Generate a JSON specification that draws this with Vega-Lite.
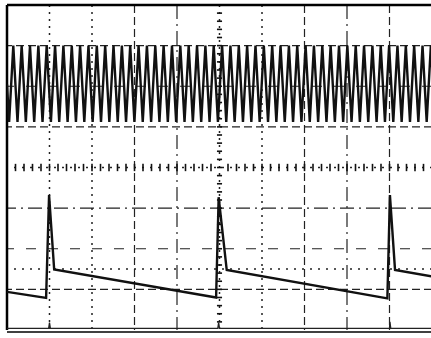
{
"$schema": "https://vega.github.io/schema/vega-lite/v6.json",
"width": 425, "height": 325,
"padding": {"left": 7, "top": 5, "right": 0, "bottom": 8},
"autosize": {"type": "none"},
"background": "white",
"config": {"view": {"stroke": null}},
"datasets": {
"h": [
{"y": 3, "s": "a"}, {"y": 2, "s": "b"}, {"y": 1, "s": "a"}, {"y": 0, "s": "dot"},
{"y": -1, "s": "c"}, {"y": -2, "s": "b"}, {"y": -2.5, "s": "dot"}, {"y": -3, "s": "a"}
],
"v": [
{"x": 1, "s": "dot"}, {"x": 2, "s": "dot"}, {"x": 3, "s": "a"}, {"x": 4, "s": "c"}, {"x": 5, "s": "dot"},
{"x": 6, "s": "dot"}, {"x": 7, "s": "a"}, {"x": 8, "s": "c"}, {"x": 9, "s": "a"}
],
"xt": [
{"x":0.2},{"x":0.4},{"x":0.6},{"x":0.8},{"x":1},{"x":1.2},{"x":1.4},{"x":1.6},{"x":1.8},{"x":2},
{"x":2.2},{"x":2.4},{"x":2.6},{"x":2.8},{"x":3},{"x":3.2},{"x":3.4},{"x":3.6},{"x":3.8},{"x":4},
{"x":4.2},{"x":4.4},{"x":4.6},{"x":4.8},{"x":5.2},{"x":5.4},{"x":5.6},{"x":5.8},{"x":6},
{"x":6.2},{"x":6.4},{"x":6.6},{"x":6.8},{"x":7},{"x":7.2},{"x":7.4},{"x":7.6},{"x":7.8},{"x":8},
{"x":8.2},{"x":8.4},{"x":8.6},{"x":8.8},{"x":9},{"x":9.2},{"x":9.4},{"x":9.6},{"x":9.8}
],
"yt": [
{"y":-3.8},{"y":-3.6},{"y":-3.4},{"y":-3.2},{"y":-3},{"y":-2.8},{"y":-2.6},{"y":-2.4},{"y":-2.2},{"y":-2},
{"y":-1.8},{"y":-1.6},{"y":-1.4},{"y":-1.2},{"y":-1},{"y":-0.8},{"y":-0.6},{"y":-0.4},{"y":-0.2},{"y":0},
{"y":0.2},{"y":0.4},{"y":0.6},{"y":0.8},{"y":1},{"y":1.2},{"y":1.4},{"y":1.6},{"y":1.8},{"y":2},
{"y":2.2},{"y":2.4},{"y":2.6},{"y":2.8},{"y":3},{"y":3.2},{"y":3.4},{"y":3.6},{"y":3.8}
],
"tri": [
{"x":0,"y":2.05},
{"x":0.050,"y":1.12},{"x":0.148,"y":3.0},
{"x":0.247,"y":1.12},{"x":0.345,"y":3.0},
{"x":0.443,"y":1.12},{"x":0.541,"y":3.0},
{"x":0.640,"y":1.12},{"x":0.738,"y":3.0},
{"x":0.836,"y":1.12},{"x":0.934,"y":3.0},
{"x":1.033,"y":1.12},{"x":1.131,"y":3.0},
{"x":1.229,"y":1.12},{"x":1.327,"y":3.0},
{"x":1.426,"y":1.12},{"x":1.524,"y":3.0},
{"x":1.622,"y":1.12},{"x":1.720,"y":3.0},
{"x":1.819,"y":1.12},{"x":1.917,"y":3.0},
{"x":2.015,"y":1.12},{"x":2.113,"y":3.0},
{"x":2.212,"y":1.12},{"x":2.310,"y":3.0},
{"x":2.408,"y":1.12},{"x":2.506,"y":3.0},
{"x":2.605,"y":1.12},{"x":2.703,"y":3.0},
{"x":2.801,"y":1.12},{"x":2.899,"y":3.0},
{"x":2.998,"y":1.12},{"x":3.096,"y":3.0},
{"x":3.194,"y":1.12},{"x":3.292,"y":3.0},
{"x":3.391,"y":1.12},{"x":3.489,"y":3.0},
{"x":3.587,"y":1.12},{"x":3.685,"y":3.0},
{"x":3.784,"y":1.12},{"x":3.882,"y":3.0},
{"x":3.980,"y":1.12},{"x":4.078,"y":3.0},
{"x":4.177,"y":1.12},{"x":4.275,"y":3.0},
{"x":4.373,"y":1.12},{"x":4.471,"y":3.0},
{"x":4.570,"y":1.12},{"x":4.668,"y":3.0},
{"x":4.766,"y":1.12},{"x":4.864,"y":3.0},
{"x":4.963,"y":1.12},{"x":5.061,"y":3.0},
{"x":5.159,"y":1.12},{"x":5.257,"y":3.0},
{"x":5.356,"y":1.12},{"x":5.454,"y":3.0},
{"x":5.552,"y":1.12},{"x":5.650,"y":3.0},
{"x":5.749,"y":1.12},{"x":5.847,"y":3.0},
{"x":5.945,"y":1.12},{"x":6.043,"y":3.0},
{"x":6.142,"y":1.12},{"x":6.240,"y":3.0},
{"x":6.338,"y":1.12},{"x":6.436,"y":3.0},
{"x":6.535,"y":1.12},{"x":6.633,"y":3.0},
{"x":6.731,"y":1.12},{"x":6.829,"y":3.0},
{"x":6.928,"y":1.12},{"x":7.026,"y":3.0},
{"x":7.124,"y":1.12},{"x":7.222,"y":3.0},
{"x":7.321,"y":1.12},{"x":7.419,"y":3.0},
{"x":7.517,"y":1.12},{"x":7.615,"y":3.0},
{"x":7.714,"y":1.12},{"x":7.812,"y":3.0},
{"x":7.910,"y":1.12},{"x":8.008,"y":3.0},
{"x":8.107,"y":1.12},{"x":8.205,"y":3.0},
{"x":8.303,"y":1.12},{"x":8.401,"y":3.0},
{"x":8.500,"y":1.12},{"x":8.598,"y":3.0},
{"x":8.696,"y":1.12},{"x":8.794,"y":3.0},
{"x":8.893,"y":1.12},{"x":8.991,"y":3.0},
{"x":9.089,"y":1.12},{"x":9.187,"y":3.0},
{"x":9.286,"y":1.12},{"x":9.384,"y":3.0},
{"x":9.482,"y":1.12},{"x":9.580,"y":3.0},
{"x":9.679,"y":1.12},{"x":9.777,"y":3.0},
{"x":9.875,"y":1.12},{"x":9.973,"y":3.0},
{"x":10,"y":2.47}
],
"saw": [
{"x":0,"y":-3.06},{"x":0.92,"y":-3.21},{"x":0.99,"y":-0.68},{"x":1.11,"y":-2.51},
{"x":4.92,"y":-3.2},{"x":4.98,"y":-0.73},{"x":5.17,"y":-2.52},
{"x":8.95,"y":-3.22},{"x":9.01,"y":-0.68},{"x":9.13,"y":-2.52},{"x":10,"y":-2.68}
],
"bot": [
{"x":0,"y":-3.96},{"x":0.98,"y":-3.96},{"x":1.0,"y":-3.82},{"x":1.02,"y":-3.96},
{"x":4.96,"y":-3.96},{"x":4.98,"y":-3.82},{"x":5.0,"y":-3.96},
{"x":9.0,"y":-3.96},{"x":9.01,"y":-3.8},{"x":9.03,"y":-3.96},{"x":10,"y":-3.96}
]
},
"layer": [
{
"data": {"name": "h"},
"transform": [{"filter": "datum.s == 'a'"}],
"mark": {"type": "rule", "stroke": "#222", "strokeWidth": 1.2, "strokeDash": [8, 4]},
"encoding": {"y": {"field": "y", "type": "quantitative", "scale": {"domain": [-4, 4]}, "axis": null}}
},
{
"data": {"name": "h"},
"transform": [{"filter": "datum.s == 'b'"}],
"mark": {"type": "rule", "stroke": "#222", "strokeWidth": 1.2, "strokeDash": [10, 12]},
"encoding": {"y": {"field": "y", "type": "quantitative", "scale": {"domain": [-4, 4]}, "axis": null}}
},
{
"data": {"name": "h"},
"transform": [{"filter": "datum.s == 'c'"}],
"mark": {"type": "rule", "stroke": "#222", "strokeWidth": 1.2, "strokeDash": [14, 5, 2, 5]},
"encoding": {"y": {"field": "y", "type": "quantitative", "scale": {"domain": [-4, 4]}, "axis": null}}
},
{
"data": {"name": "h"},
"transform": [{"filter": "datum.s == 'dot'"}],
"mark": {"type": "rule", "stroke": "#222", "strokeWidth": 1.5, "strokeDash": [2, 6]},
"encoding": {"y": {"field": "y", "type": "quantitative", "scale": {"domain": [-4, 4]}, "axis": null}}
},
{
"data": {"name": "v"},
"transform": [{"filter": "datum.s == 'a'"}],
"mark": {"type": "rule", "stroke": "#222", "strokeWidth": 1.2, "strokeDash": [8, 4]},
"encoding": {"x": {"field": "x", "type": "quantitative", "scale": {"domain": [0, 10]}, "axis": null}}
},
{
"data": {"name": "v"},
"transform": [{"filter": "datum.s == 'c'"}],
"mark": {"type": "rule", "stroke": "#222", "strokeWidth": 1.2, "strokeDash": [14, 5, 2, 5]},
"encoding": {"x": {"field": "x", "type": "quantitative", "scale": {"domain": [0, 10]}, "axis": null}}
},
{
"data": {"name": "v"},
"transform": [{"filter": "datum.s == 'dot'"}],
"mark": {"type": "rule", "stroke": "#222", "strokeWidth": 1.5, "strokeDash": [2, 5]},
"encoding": {"x": {"field": "x", "type": "quantitative", "scale": {"domain": [0, 10]}, "axis": null}}
},
{
"data": {"name": "xt"},
"mark": {"type": "rule", "stroke": "#111", "strokeWidth": 1.6},
"encoding": {
"x": {"field": "x", "type": "quantitative", "scale": {"domain": [0, 10]}, "axis": null},
"y": {"datum": -0.09, "type": "quantitative", "scale": {"domain": [-4, 4]}, "axis": null},
"y2": {"datum": 0.09}
}
},
{
"data": {"name": "yt"},
"mark": {"type": "rule", "stroke": "#111", "strokeWidth": 1.6},
"encoding": {
"y": {"field": "y", "type": "quantitative", "scale": {"domain": [-4, 4]}, "axis": null},
"x": {"datum": 4.94, "type": "quantitative", "scale": {"domain": [0, 10]}, "axis": null},
"x2": {"datum": 5.06}
}
},
{
"data": {"values": [{"x": 0}]},
"mark": {"type": "rule", "stroke": "#000", "strokeWidth": 2.5},
"encoding": {"x": {"field": "x", "type": "quantitative", "scale": {"domain": [0, 10]}, "axis": null}}
},
{
"data": {"values": [{"y": 4}]},
"mark": {"type": "rule", "stroke": "#000", "strokeWidth": 2.5},
"encoding": {"y": {"field": "y", "type": "quantitative", "scale": {"domain": [-4, 4]}, "axis": null}}
},
{
"data": {"values": [{"y": -4.05}]},
"mark": {"type": "rule", "stroke": "#000", "strokeWidth": 1.5},
"encoding": {"y": {"field": "y", "type": "quantitative", "scale": {"domain": [-4, 4]}, "axis": null}}
},
{
"data": {"name": "bot"},
"mark": {"type": "line", "stroke": "#222", "strokeWidth": 1.3, "clip": true},
"encoding": {
"x": {"field": "x", "type": "quantitative", "scale": {"domain": [0, 10]}, "axis": null},
"y": {"field": "y", "type": "quantitative", "scale": {"domain": [-4, 4]}, "axis": null}
}
},
{
"data": {"name": "tri"},
"mark": {"type": "line", "stroke": "#111", "strokeWidth": 2.4, "strokeJoin": "miter", "clip": true},
"encoding": {
"x": {"field": "x", "type": "quantitative", "scale": {"domain": [0, 10]}, "axis": null},
"y": {"field": "y", "type": "quantitative", "scale": {"domain": [-4, 4]}, "axis": null}
}
},
{
"data": {"name": "saw"},
"mark": {"type": "line", "stroke": "#111", "strokeWidth": 2.4, "clip": true},
"encoding": {
"x": {"field": "x", "type": "quantitative", "scale": {"domain": [0, 10]}, "axis": null},
"y": {"field": "y", "type": "quantitative", "scale": {"domain": [-4, 4]}, "axis": null}
}
}
]
}
